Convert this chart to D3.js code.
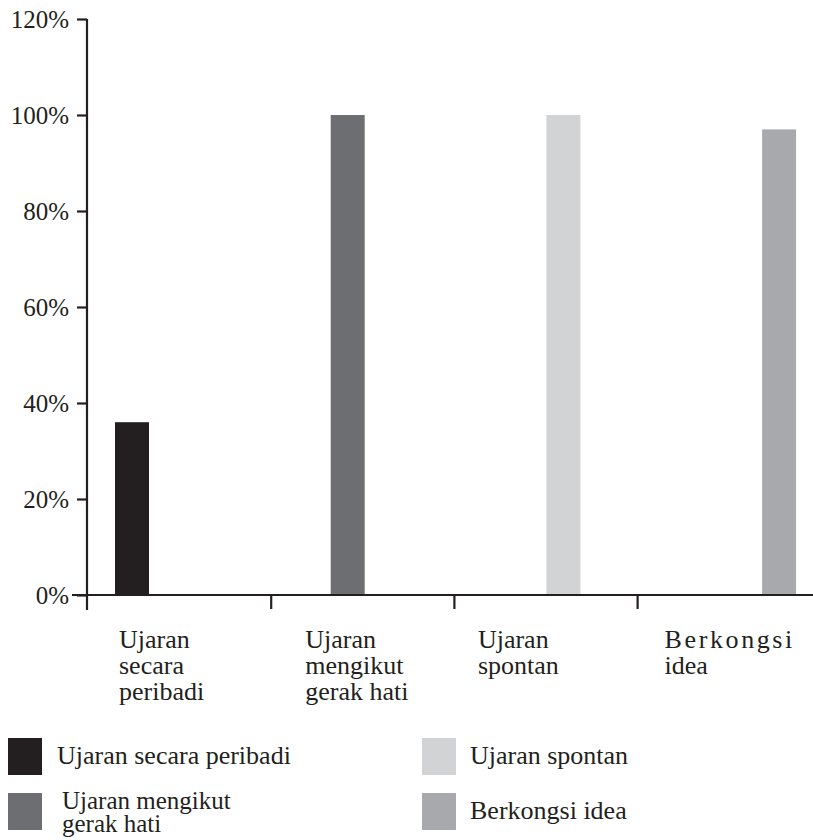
<!DOCTYPE html>
<html>
<head>
<meta charset="utf-8">
<script src="https://cdn.jsdelivr.net/npm/d3@7"></script>
<style>
  html, body { margin: 0; padding: 0; background: #ffffff; }
  svg { display: block; }
  text { font-family: "Liberation Serif", "Tinos", "Times New Roman", Times, "DejaVu Serif", serif; fill: #231f20; }
</style>
</head>
<body>
<svg id="chart" width="813" height="840"></svg>
<script>
// ---- data ----
const categories = ["Ujaran secara peribadi", "Ujaran mengikut gerak hati", "Ujaran spontan", "Berkongsi idea"];
const categoryLabelLines = [["Ujaran", "secara", "peribadi"], ["Ujaran", "mengikut", "gerak hati"], ["Ujaran", "spontan"], ["Berkongsi", "idea"]];
const seriesNames = ["Ujaran secara peribadi", "Ujaran mengikut gerak hati", "Ujaran spontan", "Berkongsi idea"];
const legendLabelLines = [["Ujaran secara peribadi"], ["Ujaran mengikut", "gerak hati"], ["Ujaran spontan"], ["Berkongsi idea"]];
const seriesPeribadi = [36, 0, 0, 0];
const seriesMengikut = [0, 100, 0, 0];
const seriesSpontan = [0, 0, 100, 0];
const seriesBerkongsi = [0, 0, 0, 97];
const yTicks = [0, 20, 40, 60, 80, 100, 120];
const seriesColors = ["#231f20", "#6d6e71", "#d1d3d4", "#a7a9ac"];

const seriesValues = [seriesPeribadi, seriesMengikut, seriesSpontan, seriesBerkongsi];

// ---- layout ----
const FONT = '"Liberation Serif", "Tinos", "Times New Roman", Times, "DejaVu Serif", serif';
const svg = d3.select("#chart");
const ink = "#231f20";
const axisX = 87;
const x = d3.scaleBand().domain(categories).range([axisX, axisX + 4 * 183.2]).padding(0);
const xs = d3.scaleBand().domain(seriesNames).range([28, 158]).padding(0);
const barW = 34;
const y = d3.scaleLinear().domain([0, 120]).range([595, 19]);

// bars
const barData = [];
seriesValues.forEach((vals, si) => {
  vals.forEach((v, ci) => {
    if (v > 0) barData.push({ s: seriesNames[si], c: categories[ci], v: v, color: seriesColors[si] });
  });
});
svg.append("g").selectAll("rect").data(barData).join("rect")
  .attr("x", d => x(d.c) + xs(d.s))
  .attr("y", d => y(d.v))
  .attr("width", barW)
  .attr("height", d => y(0) - y(d.v))
  .attr("fill", d => d.color);

// y axis
const yAxis = d3.axisLeft(y).tickValues(yTicks).tickFormat(d => d + "%").tickSize(10).tickPadding(8);
const gy = svg.append("g").attr("transform", `translate(${axisX},0)`).call(yAxis)
  .attr("font-family", FONT);
gy.select(".domain").remove();
gy.selectAll(".tick line").attr("stroke", ink).attr("stroke-width", 2.2);
gy.selectAll(".tick text").attr("font-size", 25).style("font-size", "25px").attr("dy", "0.34em")
  .style("font-family", FONT).attr("fill", ink);
// y axis line (extends below zero)
svg.append("line").attr("x1", axisX).attr("x2", axisX).attr("y1", y(120)).attr("y2", 610)
  .attr("stroke", ink).attr("stroke-width", 2.2);

// x axis line
svg.append("line").attr("x1", 72).attr("x2", 813).attr("y1", y(0)).attr("y2", y(0))
  .attr("stroke", ink).attr("stroke-width", 2.2);

// x category boundary ticks
const bounds = categories.map(c => x(c)).concat([x(categories[3]) + x.bandwidth()]).slice(1);
svg.append("g").selectAll("line").data(bounds).join("line")
  .attr("x1", d => d + 1).attr("x2", d => d + 1)
  .attr("y1", y(0)).attr("y2", 609)
  .attr("stroke", ink).attr("stroke-width", 2.2);

// category labels (one text per line)
const labelDx = [32, 35, 24.5, 28];
const labelG = svg.append("g");
categories.forEach((c, i) => {
  categoryLabelLines[i].forEach((ln, k) => {
    labelG.append("text")
      .attr("x", x(c) + labelDx[i])
      .attr("y", 648 + k * 26)
      .style("font-family", FONT)
      .style("font-size", "26px")
      .style("letter-spacing", (i === 3 && k === 0) ? "2.6px" : "0px")
      .text(ln);
  });
});

// legend
const legPos = [
  { sx: 8, sy: 738, tx: 57 },
  { sx: 8, sy: 793, tx: 62 },
  { sx: 422, sy: 738, tx: 470 },
  { sx: 422, sy: 793, tx: 470 }
];
const leg = svg.append("g");
seriesNames.forEach((s, i) => {
  const p = legPos[i];
  leg.append("rect").attr("x", p.sx).attr("y", p.sy).attr("width", 34).attr("height", 37)
    .attr("fill", seriesColors[i]);
  const lines = legendLabelLines[i];
  if (lines.length === 1) {
    leg.append("text").style("font-family", FONT).style("font-size", "26px")
      .attr("x", p.tx).attr("y", p.sy + 26).text(lines[0]);
  } else {
    lines.forEach((ln, k) => {
      leg.append("text").style("font-family", FONT).style("font-size", "25px")
        .attr("x", p.tx).attr("y", p.sy + 16 + k * 23).text(ln);
    });
  }
});
</script>
</body>
</html>
